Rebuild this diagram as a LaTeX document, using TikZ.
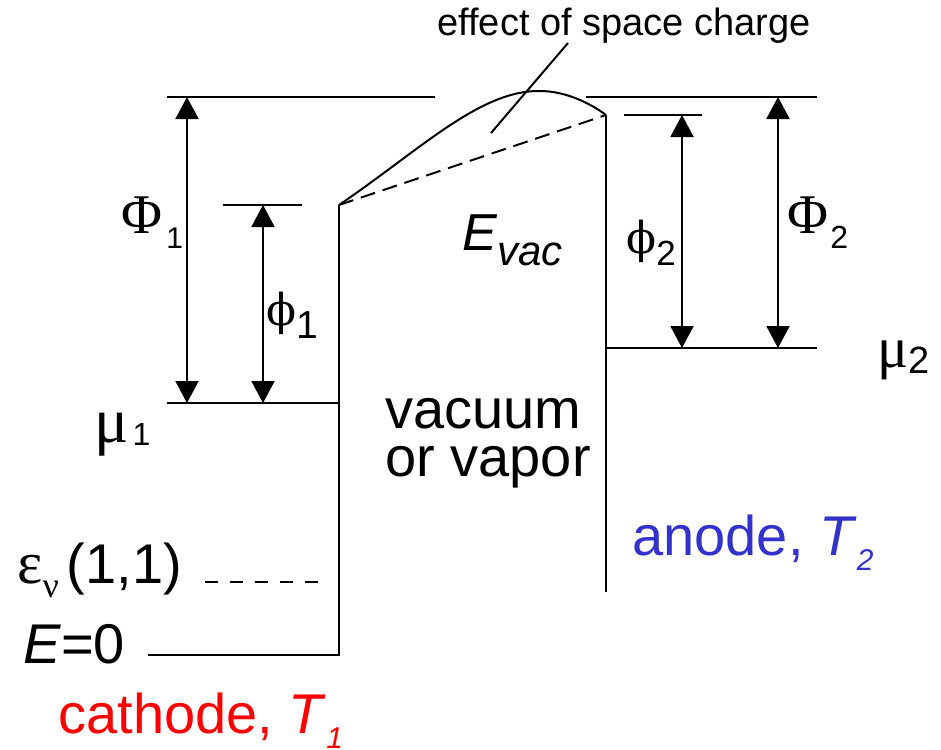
\documentclass[tikz,border=0pt]{standalone}
\usepackage{fontspec}
\setmainfont{Liberation Sans}
\newfontfamily\greekfont{Liberation Serif}
\newfontfamily\phifont{DejaVu Serif}
\usepackage{xcolor}
\definecolor{CathodeRed}{HTML}{FF0000}
\definecolor{AnodeBlue}{HTML}{3333CC}
\usetikzlibrary{arrows.meta}
\newcommand{\fs}[1]{\fontsize{#1}{#1}\selectfont}

\begin{document}
\begin{tikzpicture}[
    x=0.5pt, y=-0.5pt,
    level/.style={line width=1pt},
    dimarrow/.style={line width=1pt, {Triangle[length=11pt, width=11.5pt]}-{Triangle[length=11pt, width=11.5pt]}},
    lbl/.style={inner sep=0pt, anchor=base west},
]
% pixel grid of the reference: x to the right, y downwards
\useasboundingbox (0,0) rectangle (941,749);

\def\yVac{97}   % vacuum level
\def\yWa{205}   % cathode surface barrier
\def\yMa{403}   % mu_1
\def\yZero{655} % E=0
\def\yVib{582}  % vibrational level
\def\yWb{115}   % anode surface barrier
\def\yMb{348}   % mu_2
\def\xCat{339}
\def\xAn{606}

% Walls of the electrodes
\coordinate (catTop) at (\xCat,\yWa);
\coordinate (catBot) at (\xCat,\yZero);
\coordinate (anTop)  at (\xAn,\yWb);
\coordinate (anBot)  at (\xAn,592);
\coordinate (peak)   at (540,91);

\draw[level] (148,\yZero) -- (catBot) -- (catTop);
\draw[level] (anTop) -- (anBot);

% Vacuum barrier with and without space charge
\draw[level] (catTop) .. controls (420,150) and (480,90) .. (peak)
    .. controls (565,91) and (590,103) .. (anTop);
\draw[level, dash pattern=on 7.5pt off 4pt] (catTop) -- (anTop);

% Cathode levels
\draw[level] (167,\yVac) -- (435,\yVac);
\draw[level] (223,\yWa) -- (302,\yWa);
\draw[level] (167,\yMa) -- (\xCat,\yMa);
\draw[level, dash pattern=on 6.5pt off 6pt] (205,\yVib) -- (320,\yVib);

% Anode levels
\draw[level] (586,\yVac) -- (817,\yVac);
\draw[level] (624,\yWb) -- (702,\yWb);
\draw[level] (\xAn,\yMb) -- (817,\yMb);

% Work functions
\draw[dimarrow] (187,\yVac) -- (187,\yMa);
\draw[dimarrow] (263,\yWa) -- (263,\yMa);
\draw[dimarrow] (682,\yWb) -- (682,\yMb);
\draw[dimarrow] (778,\yVac) -- (778,\yMb);

% Space charge note
\node[lbl] (scNote) at (437,36) {\fs{19}effect of space charge};
\coordinate (scFrom) at (568,43);
\coordinate (scTo) at (491,133);
\draw[level] (scFrom) -- (scTo);

% Labels
\node[lbl] (PhiA) at (121,233) {\greekfont\fs{28}Φ\hspace{2pt}\raisebox{-7.5pt}{\normalfont\fs{15}1}};
\node[lbl] (phiA) at (266,325) {\phifont\fs{22}ϕ\raisebox{-6.5pt}{\normalfont\fs{19.5}1}};
\node[lbl] (muA) at (94,442) {\greekfont\fs{32}μ\hspace{2pt}\raisebox{-1.5pt}{\normalfont\fs{16}1}};
\node[lbl] (PhiB) at (787,233) {\greekfont\fs{28}Φ\hspace{1pt}\raisebox{-7.5pt}{\normalfont\fs{16}2}};
\node[lbl] (phiB) at (626,253) {\phifont\fs{22}ϕ\raisebox{-6pt}{\normalfont\fs{17.5}2}};
\node[lbl] (muB) at (877,367) {\greekfont\fs{29}μ\raisebox{-3pt}{\normalfont\fs{19}2}};
\node[lbl] (Evac) at (462,250) {\itshape\fs{26}E\raisebox{-7.5pt}{\fs{21}vac}};
\node[inner sep=0pt, anchor=north west, align=left, font=\fontsize{28}{24}\selectfont]
    (medium) at (385,398) {vacuum\\or vapor};
\node[lbl] (epsVib) at (17,583) {{\greekfont\fs{30}ε\raisebox{-7pt}{\fs{18}ν}}\hspace{4pt}\fs{28}(1,1)};
\node[lbl] (Ezero) at (23,663) {\fs{28}\textit{E}=0};
\node[lbl, text=CathodeRed] (cathode) at (58,733) {\fs{28}cathode, \textit{T}\raisebox{-7.5pt}{\fs{15}\textit{1}}};
\node[lbl, text=AnodeBlue] (anode) at (632,555) {\fs{28}anode, \textit{T}\raisebox{-7.5pt}{\fs{15}\textit{2}}};

\end{tikzpicture}
\end{document}
